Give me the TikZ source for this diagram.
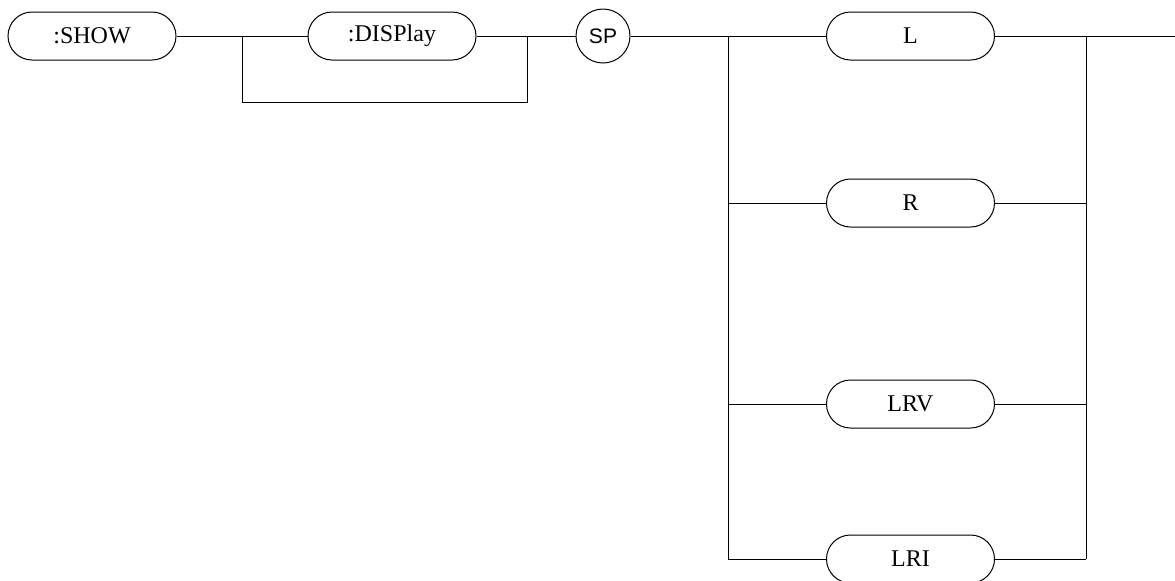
\documentclass[tikz,border=0pt]{standalone}
\usepackage{fontspec}
\setmainfont{Liberation Serif}
\newfontfamily\spfont{Liberation Sans}
\usetikzlibrary{positioning}

\begin{document}
\begin{tikzpicture}[x=0.5pt,y=-0.5pt,line width=.5pt,
  every node/.style={font=\fontsize{12}{14}\selectfont},
  kw/.style={draw,rectangle,rounded corners=12pt,minimum width=84pt,minimum height=24pt,inner sep=0pt},
  spc/.style={draw,circle,minimum size=27pt,inner sep=0pt,font=\spfont\fontsize{10.5}{12}\selectfont}]
\useasboundingbox (0,0) rectangle (1175,580);
\node[kw] (show) at (92,36) {:SHOW};
\node[kw] (disp) at (392,36) {:DISPlay};
\node[spc] (sp) at (603,36) {SP};
\node[kw] (l) at (910.5,36) {L};
\node[kw] (r) at (910.5,203) {R};
\node[kw] (lrv) at (910.5,404) {LRV};
\node[kw] (lri) at (910.5,559) {LRI};
\coordinate (byl) at (242,36);
\coordinate (byr) at (527,36);
\coordinate (busl) at (728,36);
\coordinate (busr) at (1086,36);
\coordinate (out) at (1175,36);
% main line
\draw (show) -- (disp);
\draw (disp) -- (sp);
\draw (sp) -- (l);
\draw (l) -- (out);
% skip :DISPlay
\draw (byl) -- ++(0,66) -| (byr);
% choice of channel
\draw (busl) -- (busl |- lri);
\draw (busr) -- (busr |- lri);
\foreach \n in {r,lrv,lri}{
  \draw (busl |- \n) -- (\n.west);
  \draw (\n.east) -- (busr |- \n);
}
\end{tikzpicture}
\end{document}
